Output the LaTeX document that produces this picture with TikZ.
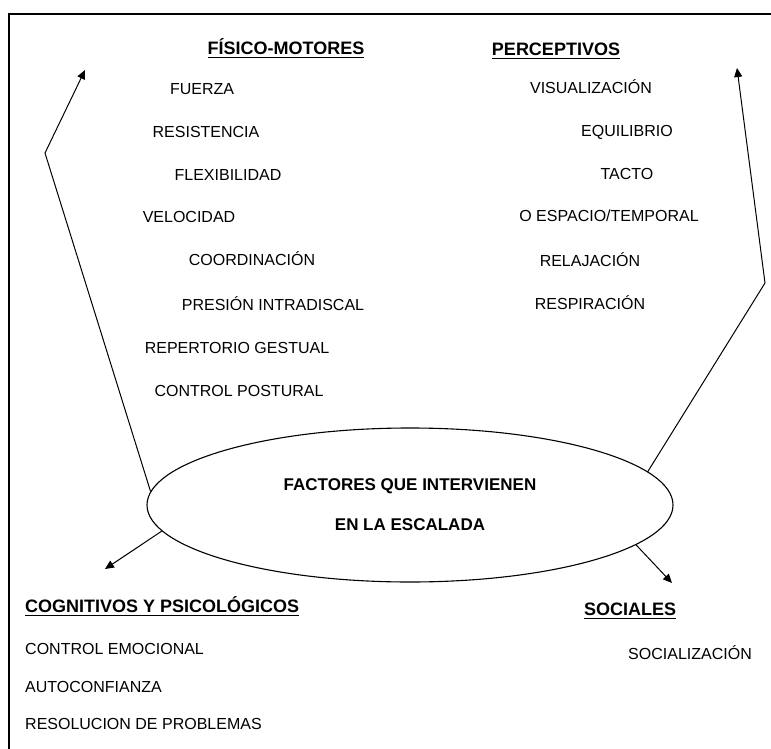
\documentclass[tikz,border=0pt]{standalone}
\usepackage{fontspec}
\setmainfont{Liberation Sans}
\usetikzlibrary{arrows.meta, shapes.geometric}

% bold heading with a heavy underline
\newcommand{\ulbold}[1]{\setbox0\hbox{#1}\rlap{\rule[-3.5pt]{\wd0}{1.6pt}}\box0}

\begin{document}
\begin{tikzpicture}[x=1pt, y=-1pt,
  item/.style={anchor=mid, inner sep=0pt, font=\fontsize{16}{19}\selectfont},
  head/.style={anchor=mid, inner sep=0pt, font=\bfseries\fontsize{18}{21}\selectfont},
  link/.style={-{Triangle[length=9pt,width=8pt]}, line width=1pt}]
\useasboundingbox (0,0) rectangle (771,749);

% frame
\draw[line width=2.5pt] (9,749) -- (9,14) -- (771,14);

% centre
\node[draw, ellipse, line width=1.1pt, minimum width=526pt, minimum height=154pt, inner sep=0pt,
  align=center, font=\bfseries\fontsize{17}{40}\selectfont] (fac) at (410,505)
  {FACTORES QUE INTERVIENEN\\EN LA ESCALADA};

% fisico-motores
\node[head] (fis) at (286,52) {\ulbold{FÍSICO-MOTORES}};
\node[item] (fuerza) at (202,92) {FUERZA};
\node[item] (resis) at (206,135) {RESISTENCIA};
\node[item] (flex) at (228,178) {FLEXIBILIDAD};
\node[item] (veloc) at (189,220) {VELOCIDAD};
\node[item] (coord) at (252,263) {COORDINACIÓN};
\node[item] (presion) at (273,308) {PRESIÓN INTRADISCAL};
\node[item] (reper) at (237,351) {REPERTORIO GESTUAL};
\node[item] (postural) at (239,394) {CONTROL POSTURAL};

% perceptivos
\node[head] (perc) at (556,53) {\ulbold{PERCEPTIVOS}};
\node[item] (visual) at (591,91) {VISUALIZACIÓN};
\node[item] (equil) at (627,134) {EQUILIBRIO};
\node[item] (tacto) at (627,177) {TACTO};
\node[item] (espacio) at (609,219) {O ESPACIO/TEMPORAL};
\node[item] (relaj) at (590,264) {RELAJACIÓN};
\node[item] (resp) at (590,307) {RESPIRACIÓN};

% cognitivos
\node[head, anchor=mid west] (cogn) at (25,610) {\ulbold{COGNITIVOS Y PSICOLÓGICOS}};
\node[item, anchor=mid west] (emoc) at (25,652) {CONTROL EMOCIONAL};
\node[item, anchor=mid west] (autoc) at (25,690) {AUTOCONFIANZA};
\node[item, anchor=mid west] (resol) at (25,727) {RESOLUCION DE PROBLEMAS};

% sociales
\node[head] (soc) at (630,613) {\ulbold{SOCIALES}};
\node[item] (sociz) at (690,657) {SOCIALIZACIÓN};

% arrows
\coordinate (lbend) at (45,153);
\coordinate (ltip) at (85,70);
\coordinate (rbend) at (765,283);
\coordinate (rtip) at (737,68);
\coordinate (ctip) at (105,569);
\coordinate (stip) at (672,583);
\draw[link] (fac.177) -- (lbend) -- (ltip);
\draw[link] (fac.8) -- (rbend) -- (rtip);
\draw[link] (fac.186) -- (ctip);
\draw[link] (fac.350) -- (stip);
\end{tikzpicture}
\end{document}
